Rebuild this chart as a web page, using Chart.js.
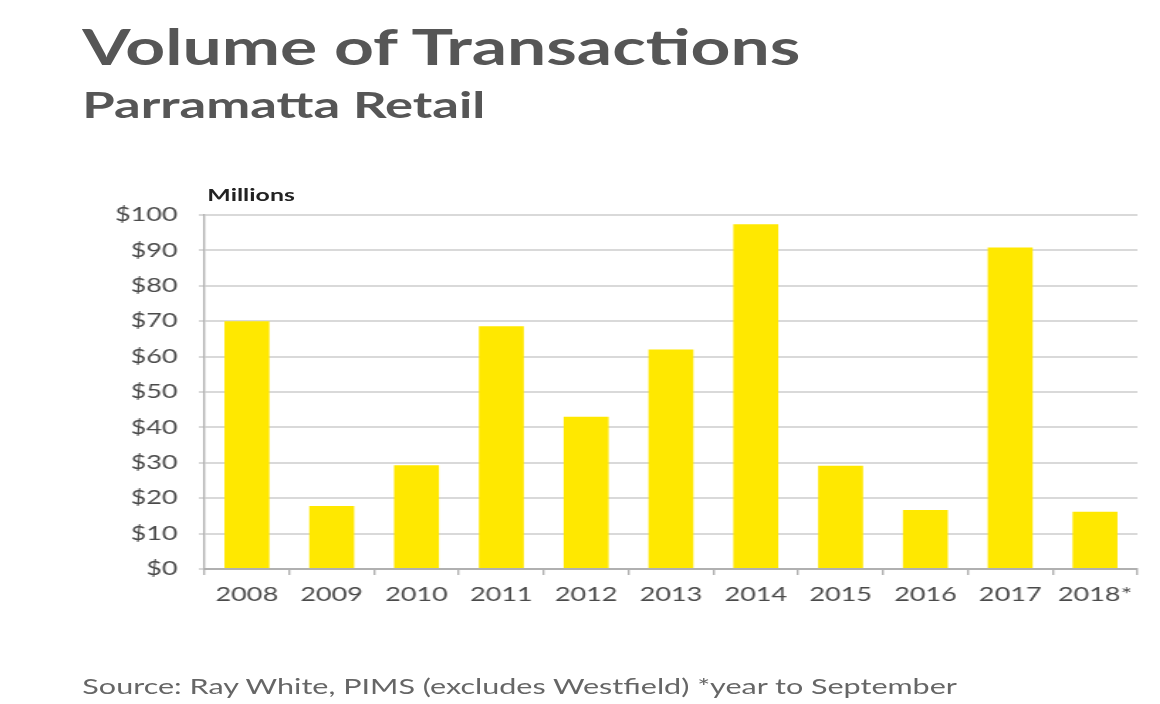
<!DOCTYPE html>
<html lang="en">
<head>
    <meta charset="utf-8"/>
    <title>Volume of Transactions | Parramatta Retail</title>
    <script src="https://cdn.jsdelivr.net/npm/chart.js"></script>
    <style>
        html, body { margin: 0; padding: 0; background: #fff; overflow: hidden; }
        /* the reference is stretched sideways, so the whole page is drawn narrow and widened */
        #page {
            position: relative; width: 817px; height: 704px;
            transform: scaleX(1.42); transform-origin: 0 0;
            font-family: Lato, sans-serif; color: #565656;
        }
        .title { position: absolute; left: 58px; top: 17px; font-size: 49px; font-weight: 700; white-space: nowrap; }
        .subtitle { position: absolute; left: 58px; top: 81px; font-size: 37px; font-weight: 700; white-space: nowrap; }
        .units { position: absolute; left: 146px; top: 184px; font-size: 17.5px; font-weight: 700; color: #222; }
        .source { position: absolute; left: 58px; top: 673px; font-size: 21.5px; white-space: nowrap; color: #666; }
        #wrap { position: absolute; left: 0; top: 180px; width: 817px; height: 440px; }
    </style>
</head>
<body>
<div id="page">
    <div class="title">Volume of Transactions</div>
    <div class="subtitle">Parramatta Retail</div>
    <div class="units">Millions</div>
    <div id="wrap"><canvas id="chart"></canvas></div>
    <div class="source">Source: Ray White, PIMS (excludes Westfield) *year to September</div>
</div>

<script>
    // values, $ millions
    const years = ['2008', '2009', '2010', '2011', '2012', '2013', '2014', '2015', '2016', '2017', '2018*'];
    const volumes = [70, 17.8, 29.3, 68.6, 43, 62, 97.4, 29.2, 16.7, 90.8, 16.2];
    const yTicks = [0, 10, 20, 30, 40, 50, 60, 70, 80, 90, 100];

    const tickFont = { family: 'Lato', size: 19 };

    new Chart(document.getElementById('chart'), {
        type: 'bar',
        data: {
            labels: years,
            datasets: [{
                data: volumes,
                backgroundColor: '#ffe800',
                categoryPercentage: 1,
                barPercentage: 0.53
            }]
        },
        options: {
            responsive: true,
            maintainAspectRatio: false,
            animation: false,
            layout: { padding: { left: 0, right: 16, top: 35, bottom: 0 } },
            plugins: { legend: { display: false }, tooltip: { enabled: false } },
            scales: {
                x: {
                    grid: { display: true, drawOnChartArea: false, offset: true, tickLength: 6, color: '#b0b0b0', lineWidth: 1.4 },
                    border: { color: '#b0b0b0', width: 2 },
                    ticks: { color: '#4a4a4a', font: tickFont, padding: 8 },
                    afterFit: s => { s.height = 51; }
                },
                y: {
                    min: 0,
                    max: 100,
                    afterBuildTicks: s => { s.ticks = yTicks.map(v => ({ value: v })); },
                    grid: { color: '#d9d9d9', lineWidth: 2, tickLength: 4 },
                    border: { color: '#b0b0b0', width: 1.4 },
                    ticks: { color: '#4a4a4a', font: tickFont, padding: 15, callback: v => '$' + v },
                    afterFit: s => { s.width = 144; }
                }
            }
        }
    });
</script>
</body>
</html>
